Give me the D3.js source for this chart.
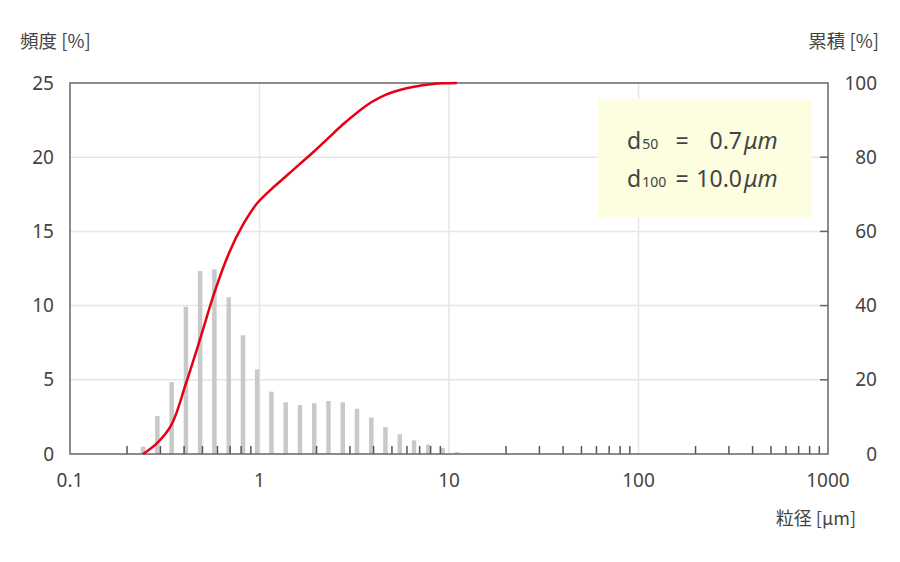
<!DOCTYPE html>
<html>
<head>
<meta charset="utf-8">
<script src="https://d3js.org/d3.v7.min.js"></script>
<style>
  body { margin: 0; background: #fff; }
  text { font-family: "Noto Sans", "Noto Sans CJK JP", sans-serif; fill: #444; }
  .jp { font-family: "Noto Sans CJK JP", "Noto Sans", sans-serif; }
</style>
</head>
<body>
<svg id="chart" width="900" height="562"></svg>
<script>
// particle size channels [um]
const sizes = [0.243, 0.289, 0.344, 0.409, 0.486, 0.578, 0.688, 0.818, 0.972,
               1.156, 1.375, 1.635, 1.945, 2.312, 2.750, 3.270, 3.890, 4.620,
               5.500, 6.540, 7.780, 9.250, 11.00];
// frequency [%]
const freq = [0.5, 2.56, 4.85, 9.93, 12.33, 12.44, 10.56, 8.0, 5.7,
              4.2, 3.48, 3.3, 3.42, 3.57, 3.48, 3.05, 2.45, 1.82,
              1.33, 0.92, 0.63, 0.40, 0.13];
// cumulative [%]
const cumul = [0, 3.0, 8.0, 19, 31, 43.5, 54, 61.8, 67.6,
               71.4, 74.8, 78.2, 81.6, 85.2, 88.8, 92.0, 94.8, 96.8,
               98.1, 99.0, 99.6, 99.9, 100];

const xTicks = [0.1, 1, 10, 100, 1000];
const xTickLabels = ["0.1", "1", "10", "100", "1000"];
const yTicks = [0, 5, 10, 15, 20, 25];
const y2Ticks = [0, 20, 40, 60, 80, 100];

const svg = d3.select("#chart");
const plotL = 70, plotR = 828, plotT = 83, plotB = 454;

const x = d3.scaleLog().domain([0.1, 1000]).range([plotL, plotR]);
const y = d3.scaleLinear().domain([0, 25]).range([plotB, plotT]);
const y2 = d3.scaleLinear().domain([0, 100]).range([plotB, plotT]);

// gridlines
svg.append("g")
  .selectAll("line")
  .data(yTicks.slice(1, -1))
  .join("line")
  .attr("x1", plotL).attr("x2", plotR)
  .attr("y1", d => y(d)).attr("y2", d => y(d))
  .style("stroke", "#e6e6e6").style("stroke-width", 1.5);

svg.append("g")
  .selectAll("line")
  .data(xTicks.slice(1, -1))
  .join("line")
  .attr("x1", d => x(d)).attr("x2", d => x(d))
  .attr("y1", plotT).attr("y2", plotB)
  .style("stroke", "#e6e6e6").style("stroke-width", 1.5);

// minor ticks 2..9 in each decade, pointing up into the plot
const minor = [];
[0.1, 1, 10, 100].forEach(dec => {
  for (let k = 2; k <= 9; k++) minor.push(dec * k);
});

// bars
const barW = 4.5;
svg.append("g")
  .selectAll("rect")
  .data(sizes)
  .join("rect")
  .attr("x", (d, i) => x(d) - barW / 2)
  .attr("y", (d, i) => y(freq[i]))
  .attr("width", barW)
  .attr("height", (d, i) => plotB - y(freq[i]))
  .style("fill", "#c9c9c9");

svg.append("g")
  .selectAll("line")
  .data(minor)
  .join("line")
  .attr("x1", d => x(d)).attr("x2", d => x(d))
  .attr("y1", plotB).attr("y2", plotB - 8)
  .style("stroke", "#555").style("stroke-width", 1.5);

// right axis inner ticks
svg.append("g")
  .selectAll("line")
  .data(y2Ticks.slice(1, -1))
  .join("line")
  .attr("x1", plotR - 8).attr("x2", plotR)
  .attr("y1", d => y2(d)).attr("y2", d => y2(d))
  .style("stroke", "#666").style("stroke-width", 1.5);

// plot frame
svg.append("rect")
  .attr("x", plotL).attr("y", plotT)
  .attr("width", plotR - plotL).attr("height", plotB - plotT)
  .style("fill", "none").style("stroke", "#666").style("stroke-width", 1.5);

// cumulative curve
const line = d3.line()
  .x((d, i) => x(sizes[i]))
  .y(d => y2(d))
  .curve(d3.curveCatmullRom.alpha(0.5));

svg.append("path")
  .datum(cumul)
  .attr("d", line)
  .style("fill", "none")
  .style("stroke", "#e60012")
  .style("stroke-width", 2.5);

// tick labels
svg.append("g")
  .selectAll("text")
  .data(yTicks)
  .join("text")
  .attr("x", 54).attr("y", d => y(d))
  .attr("dy", "0.35em")
  .attr("text-anchor", "end")
  .style("font-size", "19px")
  .text(d => d);

svg.append("g")
  .selectAll("text")
  .data(y2Ticks)
  .join("text")
  .attr("x", 877).attr("y", d => y2(d))
  .attr("dy", "0.35em")
  .attr("text-anchor", "end")
  .style("font-size", "19px")
  .text(d => d);

svg.append("g")
  .selectAll("text")
  .data(xTicks)
  .join("text")
  .attr("x", d => x(d)).attr("y", 487)
  .attr("text-anchor", "middle")
  .style("font-size", "19px")
  .text((d, i) => xTickLabels[i]);

// axis titles
svg.append("text").attr("class", "jp")
  .attr("x", 20).attr("y", 48)
  .style("font-size", "18.5px")
  .text("頻度 [%]");

svg.append("text").attr("class", "jp")
  .attr("x", 879).attr("y", 48)
  .attr("text-anchor", "end")
  .style("font-size", "18.5px")
  .text("累積 [%]");

svg.append("text").attr("class", "jp")
  .attr("x", 856).attr("y", 525)
  .attr("text-anchor", "end")
  .style("font-size", "18px")
  .text("粒径 [μm]");

// annotation box
svg.append("rect")
  .attr("x", 598).attr("y", 99)
  .attr("width", 214).attr("height", 118)
  .style("fill", "#fdfde0");

const notes = [
  { sub: "50", val: "0.7", base: 149 },
  { sub: "100", val: "10.0", base: 187 }
];
notes.forEach(n => {
  const t = svg.append("text")
    .attr("x", 627).attr("y", n.base)
    .style("font-size", "23px");
  t.append("tspan").text("d");
  t.append("tspan").attr("dx", 1).style("font-size", "14px").text(n.sub);
  svg.append("text")
    .attr("x", 682).attr("y", n.base)
    .attr("text-anchor", "middle")
    .style("font-size", "23px")
    .text("=");
  svg.append("text")
    .attr("x", 742).attr("y", n.base)
    .attr("text-anchor", "end")
    .style("font-size", "23px")
    .text(n.val);
  svg.append("text")
    .attr("x", 744).attr("y", n.base)
    .style("font-size", "23px")
    .style("font-style", "italic")
    .text("μm");
});
</script>
</body>
</html>
